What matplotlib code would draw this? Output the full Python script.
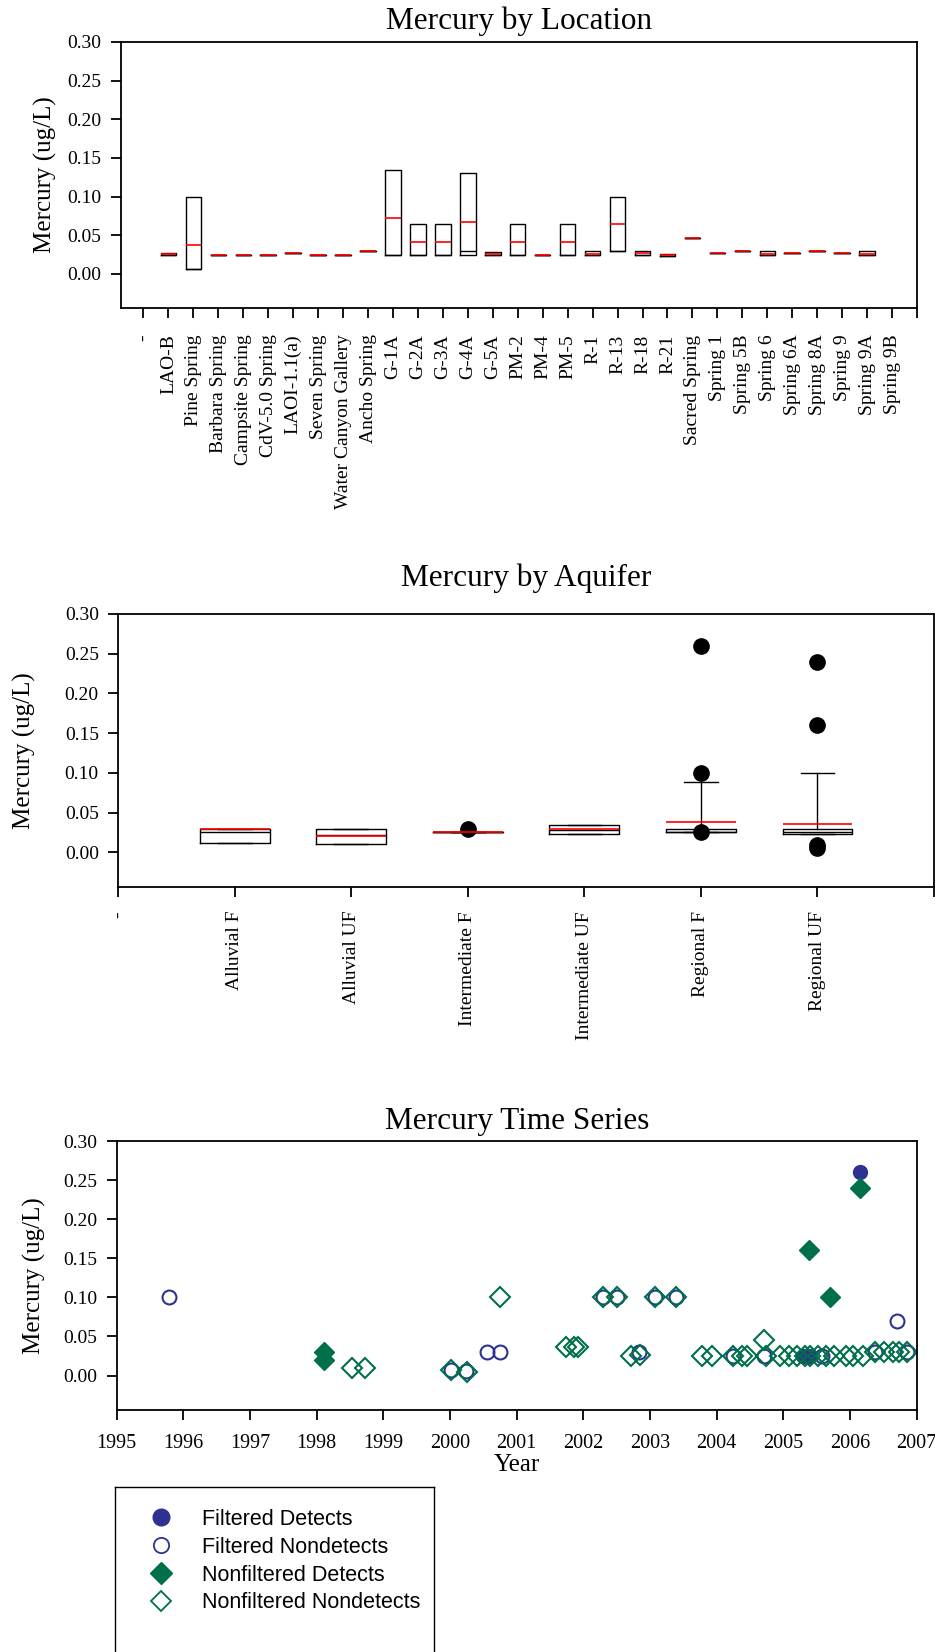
import numpy as np
import matplotlib
matplotlib.use("Agg")
import matplotlib.pyplot as plt
from matplotlib.lines import Line2D

plt.rcParams["font.family"] = ["Liberation Serif", "DejaVu Serif"]
plt.rcParams["axes.linewidth"] = 1.3

# ---- Mercury by Location ----
loc_names = ["-", "LAO-B", "Pine Spring", "Barbara Spring", "Campsite Spring",
             "CdV-5.0 Spring", "LAOI-1.1(a)", "Seven Spring", "Water Canyon Gallery",
             "Ancho Spring", "G-1A", "G-2A", "G-3A", "G-4A", "G-5A", "PM-2", "PM-4",
             "PM-5", "R-1", "R-13", "R-18", "R-21", "Sacred Spring", "Spring 1",
             "Spring 5B", "Spring 6", "Spring 6A", "Spring 8A", "Spring 9",
             "Spring 9A", "Spring 9B"]
loc_q1 = [None, 0.025, 0.006, 0.025, 0.025, 0.025, 0.027, 0.025, 0.025, 0.030,
          0.025, 0.025, 0.025, 0.025, 0.025, 0.025, 0.025, 0.025, 0.025, 0.030,
          0.025, 0.023, 0.047, 0.027, 0.030, 0.025, 0.027, 0.030, 0.027, 0.025, None]
loc_q3 = [None, 0.027, 0.100, 0.025, 0.025, 0.025, 0.027, 0.025, 0.025, 0.030,
          0.135, 0.065, 0.065, 0.130, 0.029, 0.065, 0.025, 0.065, 0.030, 0.100,
          0.030, 0.026, 0.047, 0.027, 0.030, 0.030, 0.027, 0.030, 0.027, 0.030, None]
loc_med = [None, 0.025, 0.006, 0.025, 0.025, 0.025, 0.027, 0.025, 0.025, 0.030,
           0.025, 0.025, 0.025, 0.030, 0.025, 0.025, 0.025, 0.025, 0.025, 0.030,
           0.025, 0.023, 0.047, 0.027, 0.030, 0.025, 0.027, 0.030, 0.027, 0.025, None]
loc_mean = [None, 0.026, 0.037, 0.025, 0.025, 0.025, 0.027, 0.025, 0.025, 0.030,
            0.073, 0.041, 0.041, 0.067, 0.026, 0.041, 0.0245, 0.041, 0.026, 0.065,
            0.027, 0.0245, 0.047, 0.0275, 0.030, 0.026, 0.0275, 0.030, 0.0275, 0.026, None]

# ---- Mercury by Aquifer ----
aq_names = ["-", "Alluvial F", "Alluvial UF", "Intermediate F", "Intermediate UF",
            "Regional F", "Regional UF"]
aq_q1 = [0.012, 0.0105, 0.025, 0.0235, 0.025, 0.0235]
aq_q3 = [0.030, 0.030, 0.025, 0.034, 0.030, 0.030]
aq_med = [0.025, 0.022, 0.025, 0.028, 0.025, 0.025]
aq_mean = [0.030, 0.021, 0.0255, 0.029, 0.038, 0.0355]
aq_whislo = [0.012, 0.0105, 0.025, 0.0235, 0.025, 0.0235]
aq_whishi = [0.030, 0.030, 0.025, 0.034, 0.088, 0.100]
aq_fliers = [[], [], [0.030], [], [0.26, 0.10, 0.025], [0.24, 0.16, 0.009, 0.006]]

# ---- Mercury Time Series ----
fd_year = [2006.15, 2005.30, 2005.38]
fd_val = [0.26, 0.025, 0.025]
fn_year = [1995.79, 2000.02, 2000.24, 2000.56, 2000.75, 2002.30, 2002.51, 2002.84,
           2003.07, 2003.39, 2004.24, 2004.71, 2005.58, 2006.37, 2006.71, 2006.85]
fn_val = [0.10, 0.007, 0.006, 0.03, 0.03, 0.10, 0.10, 0.03,
          0.10, 0.10, 0.025, 0.025, 0.025, 0.03, 0.07, 0.03]
nd_year = [1998.11, 1998.11, 2005.38, 2005.70, 2006.15]
nd_val = [0.03, 0.02, 0.16, 0.10, 0.24]
nn_year = [1998.53, 1998.73, 2000.02, 2000.26, 2000.75, 2001.74, 2001.86, 2001.92,
           2002.30, 2002.51, 2003.07, 2003.39, 2002.72, 2002.85,
           2003.78, 2003.93, 2004.24, 2004.38, 2004.45, 2004.71, 2004.74, 2004.95,
           2005.09, 2005.21, 2005.32, 2005.40, 2005.52, 2005.64, 2005.76, 2005.94,
           2006.05, 2006.19, 2006.37, 2006.51, 2006.64, 2006.74, 2006.85]
nn_val = [0.01, 0.01, 0.007, 0.005, 0.10, 0.037, 0.036, 0.037,
          0.10, 0.10, 0.10, 0.10, 0.025, 0.026,
          0.025, 0.025, 0.025, 0.025, 0.025, 0.045, 0.025, 0.025,
          0.025, 0.025, 0.025, 0.025, 0.025, 0.025, 0.025, 0.025,
          0.025, 0.025, 0.030, 0.030, 0.030, 0.030, 0.030]
years = list(range(1995, 2008))
yticks = [0.00, 0.05, 0.10, 0.15, 0.20, 0.25, 0.30]

blue = "#2E3192"
green = "#00704A"
W, H = 935, 1652

fig = plt.figure(figsize=(W / 100, H / 100), dpi=100)


def px_axes(l, t, r, b):
    return fig.add_axes([l / W, 1 - b / H, (r - l) / W, (b - t) / H])


def style_y(ax, labx):
    ax.set_ylim(-0.044, 0.30)
    ax.set_yticks(yticks)
    ax.set_yticklabels([f"{v:.2f}" for v in yticks])
    ax.set_ylabel("Mercury (ug/L)", fontsize=18)
    ax.yaxis.set_label_coords(labx, 0.5)
    ax.tick_params(direction="out", length=7, width=1.3, labelsize=14, pad=7)


box_kw = dict(showmeans=True, meanline=True, patch_artist=False,
              boxprops=dict(color="black", linewidth=1.0),
              medianprops=dict(color="black", linewidth=1.0),
              meanprops=dict(color="red", linestyle="-", linewidth=1.2),
              whiskerprops=dict(color="black", linewidth=1.0),
              capprops=dict(color="black", linewidth=1.0),
              flierprops=dict(marker="o", markerfacecolor="black",
                              markeredgecolor="black", markersize=11))

# panel 1
ax1 = px_axes(121, 42, 917, 308)
stats1, pos1 = [], []
for i in range(len(loc_names)):
    if loc_q1[i] is None:
        continue
    stats1.append(dict(q1=loc_q1[i], q3=loc_q3[i], med=loc_med[i], mean=loc_mean[i],
                       whislo=loc_q1[i], whishi=loc_q3[i], fliers=[]))
    pos1.append(i)
ax1.bxp(stats1, positions=pos1, widths=0.62, showcaps=False, **box_kw)
ax1.set_xlim(-0.9, 31)
ax1.set_xticks(range(32))
ax1.set_xticklabels(loc_names + [""], rotation=90, fontsize=12.8)
style_y(ax1, -0.081)
ax1.tick_params(axis="x", pad=12)
ax1.set_title("Mercury by Location", fontsize=22.5, pad=9)

# panel 2
ax2 = px_axes(118.3, 614, 934, 887.3)
stats2 = []
for i in range(len(aq_q1)):
    stats2.append(dict(q1=aq_q1[i], q3=aq_q3[i], med=aq_med[i], mean=aq_mean[i],
                       whislo=aq_whislo[i], whishi=aq_whishi[i], fliers=aq_fliers[i]))
ax2.bxp(stats2, positions=range(1, 7), widths=0.6, capwidths=0.29, **box_kw)
ax2.set_xlim(0, 7)
ax2.set_xticks(range(8))
ax2.set_xticklabels(aq_names + [""], rotation=90, fontsize=12.8)
style_y(ax2, -0.101)
ax2.tick_params(axis="x", pad=10)
ax2.set_title("Mercury by Aquifer", fontsize=22.5, pad=20)

# panel 3
ax3 = px_axes(116.7, 1141, 916.7, 1410)
ax3.plot(fd_year, fd_val, "o", ms=10, color=blue, mec=blue, ls="none",
         label="Filtered Detects")
ax3.plot(fn_year, fn_val, "o", ms=10, mfc="none", mec=blue, mew=1.5, ls="none",
         label="Filtered Nondetects")
ax3.plot(nd_year, nd_val, "D", ms=10, color=green, mec=green, ls="none",
         label="Nonfiltered Detects")
ax3.plot(nn_year, nn_val, "D", ms=10, mfc="none", mec=green, mew=1.5, ls="none",
         label="Nonfiltered Nondetects")
ax3.set_xlim(1995, 2007)
ax3.set_xticks(years)
ax3.set_xticklabels([str(y) for y in years])
ax3.set_xlabel("Year", fontsize=18, labelpad=1)
style_y(ax3, -0.089)
ax3.tick_params(axis="x", labelsize=14.5, pad=10)
ax3.set_title("Mercury Time Series", fontsize=22.5, pad=9)

# legend box
axl = fig.add_axes([115 / W, -0.02, (434.3 - 115) / W, (1652 - 1487.3) / H + 0.02])
axl.set_xticks([])
axl.set_yticks([])
for s in axl.spines.values():
    s.set_linewidth(1.0)
handles = [
    Line2D([], [], marker="o", ls="none", ms=12, color=blue, mec=blue),
    Line2D([], [], marker="o", ls="none", ms=11, mfc="none", mec=blue, mew=1.3),
    Line2D([], [], marker="D", ls="none", ms=11, color=green, mec=green),
    Line2D([], [], marker="D", ls="none", ms=10, mfc="none", mec=green, mew=1.3),
]
labels = ["Filtered Detects", "Filtered Nondetects", "Nonfiltered Detects",
          "Nonfiltered Nondetects"]
axl.legend(handles, labels, loc="upper left", bbox_to_anchor=(0.05, 0.935),
           frameon=False, prop=dict(family="Liberation Sans", size=15.5),
           handletextpad=0.9, labelspacing=0.32, borderaxespad=0)

fig.savefig("out.png", dpi=100)
